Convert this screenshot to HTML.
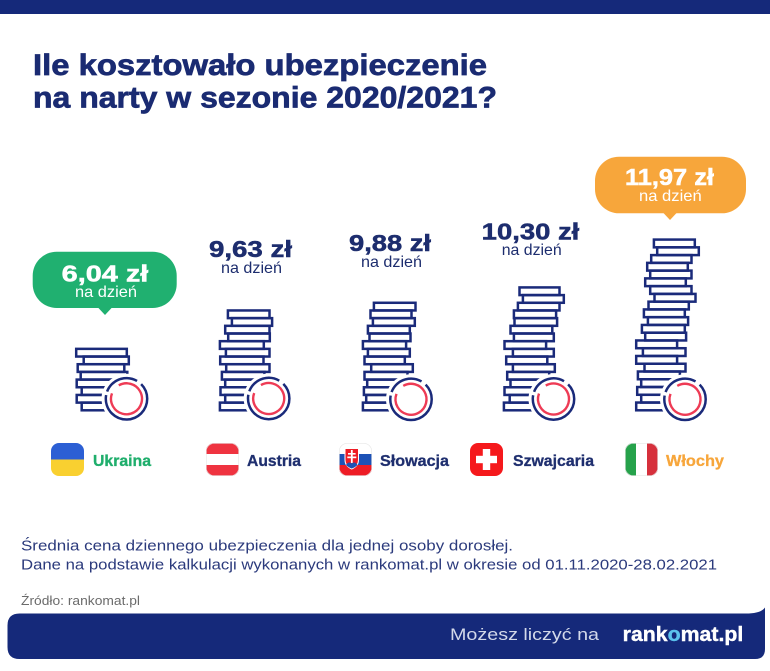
<!DOCTYPE html>
<html><head><meta charset="utf-8"><style>
html,body{margin:0;padding:0;background:#fff;}
svg{display:block;}
text{font-family:"Liberation Sans","DejaVu Sans",sans-serif;}
</style></head><body>
<svg width="770" height="671" viewBox="0 0 770 671" xmlns="http://www.w3.org/2000/svg">
<defs>
<clipPath id="f1"><rect x="51" y="443" width="33" height="33" rx="8"/></clipPath>
<clipPath id="f2"><rect x="206" y="443" width="33" height="33" rx="8"/></clipPath>
<clipPath id="f3"><rect x="339" y="443" width="33" height="33" rx="8"/></clipPath>
<clipPath id="f4"><rect x="470" y="443" width="33" height="33" rx="8"/></clipPath>
<clipPath id="f5"><rect x="625" y="443" width="33" height="33" rx="8"/></clipPath>
</defs>
<rect width="770" height="671" fill="#fff"/>
<rect x="0" y="0" width="770" height="14" fill="#15297a"/>

<text x="33" y="75" font-size="30" font-weight="bold" fill="#1a2b72" stroke="#1a2b72" stroke-width="0.7" textLength="454" lengthAdjust="spacingAndGlyphs">Ile kosztowało ubezpieczenie</text>
<text x="33" y="107.5" font-size="30" font-weight="bold" fill="#1a2b72" stroke="#1a2b72" stroke-width="0.7" textLength="464" lengthAdjust="spacingAndGlyphs">na narty w sezonie 2020/2021?</text>

<!-- bubbles -->
<rect x="32.7" y="251.7" width="144" height="56.3" rx="24" fill="#20b070"/>
<path d="M97.5 307 L105 315 L112.5 307 Z" fill="#20b070"/>
<text x="61.7" y="281.7" font-size="23" font-weight="bold" fill="#fff" stroke="#fff" stroke-width="0.5" textLength="86.6" lengthAdjust="spacingAndGlyphs">6,04 zł</text>
<text x="75" y="297" font-size="16" fill="#fff" textLength="62" lengthAdjust="spacingAndGlyphs">na dzień</text>

<rect x="595" y="156.7" width="151" height="56.6" rx="24" fill="#f7a63b"/>
<path d="M662.5 212 L670 220 L677.5 212 Z" fill="#f7a63b"/>
<text x="625" y="185" font-size="23" font-weight="bold" fill="#fff" stroke="#fff" stroke-width="0.5" textLength="89" lengthAdjust="spacingAndGlyphs">11,97 zł</text>
<text x="639" y="201" font-size="16" fill="#fff" textLength="62.7" lengthAdjust="spacingAndGlyphs">na dzień</text>

<g fill="#1d2d6e" stroke="#1d2d6e" stroke-width="0.5" font-size="23" font-weight="bold">
<text x="209" y="257" textLength="83" lengthAdjust="spacingAndGlyphs">9,63 zł</text>
<text x="349" y="251" textLength="82" lengthAdjust="spacingAndGlyphs">9,88 zł</text>
<text x="481.7" y="239.3" textLength="97.6" lengthAdjust="spacingAndGlyphs">10,30 zł</text>
</g>
<text x="221" y="273" font-size="16" fill="#1d2d6e" textLength="61" lengthAdjust="spacingAndGlyphs">na dzień</text>
<text x="361" y="267" font-size="16" fill="#1d2d6e" textLength="61" lengthAdjust="spacingAndGlyphs">na dzień</text>
<text x="501.7" y="255" font-size="16" fill="#1d2d6e" textLength="60" lengthAdjust="spacingAndGlyphs">na dzień</text>

<!-- stacks -->
<g fill="none" stroke="#1a2a7a" stroke-width="2.5">
<!-- Ukraine -->
<rect x="76.2" y="348.86" width="50.6" height="7.68"/>
<rect x="83.7" y="356.54" width="45.1" height="7.68"/>
<rect x="77.7" y="364.22" width="46.6" height="7.68"/>
<rect x="80.7" y="371.9" width="46.6" height="7.68"/>
<rect x="76.7" y="379.58" width="49.6" height="7.68"/>
<rect x="81.7" y="387.26" width="49.6" height="7.68"/>
<rect x="76.7" y="394.94" width="49.6" height="7.68"/>
<rect x="81.7" y="402.62" width="49.6" height="7.68"/>
<!-- Austria -->
<rect x="227.9" y="310.46" width="41.6" height="7.68"/>
<rect x="231.9" y="318.14" width="40.2" height="7.68"/>
<rect x="225.2" y="325.82" width="44.3" height="7.68"/>
<rect x="228.2" y="333.5" width="41.6" height="7.68"/>
<rect x="219.9" y="341.18" width="43.9" height="7.68"/>
<rect x="225.9" y="348.86" width="43.6" height="7.68"/>
<rect x="220.2" y="356.54" width="43.3" height="7.68"/>
<rect x="226.2" y="364.22" width="43.3" height="7.68"/>
<rect x="221.9" y="371.9" width="42.6" height="7.68"/>
<rect x="225.2" y="379.58" width="43" height="7.68"/>
<rect x="220.5" y="387.26" width="43" height="7.68"/>
<rect x="225.2" y="394.94" width="43" height="7.68"/>
<rect x="219.9" y="402.62" width="43" height="7.68"/>
<!-- Slovakia -->
<rect x="373.9" y="302.78" width="41.6" height="7.68"/>
<rect x="370.5" y="310.46" width="41" height="7.68"/>
<rect x="372.9" y="318.14" width="41.9" height="7.68"/>
<rect x="367.9" y="325.82" width="41.9" height="7.68"/>
<rect x="369.5" y="333.5" width="41" height="7.68"/>
<rect x="362.9" y="341.18" width="43.2" height="7.68"/>
<rect x="367.9" y="348.86" width="41.9" height="7.68"/>
<rect x="364.5" y="356.54" width="40.3" height="7.68"/>
<rect x="371.2" y="364.22" width="41.6" height="7.68"/>
<rect x="364.5" y="371.9" width="43" height="7.68"/>
<rect x="367.2" y="379.58" width="43" height="7.68"/>
<rect x="363.9" y="387.26" width="43" height="7.68"/>
<rect x="366.2" y="394.94" width="43" height="7.68"/>
<rect x="362.9" y="402.62" width="43" height="7.68"/>
<!-- Switzerland -->
<rect x="519.5" y="287.42" width="40" height="7.68"/>
<rect x="522.9" y="295.1" width="40.9" height="7.68"/>
<rect x="517.9" y="302.78" width="41.6" height="7.68"/>
<rect x="513.9" y="310.46" width="42.2" height="7.68"/>
<rect x="514.5" y="318.14" width="42.6" height="7.68"/>
<rect x="510.5" y="325.82" width="41.8" height="7.68"/>
<rect x="513.9" y="333.5" width="39.9" height="7.68"/>
<rect x="504.5" y="341.18" width="41.6" height="7.68"/>
<rect x="512.9" y="348.86" width="40.9" height="7.68"/>
<rect x="506.2" y="356.54" width="41.1" height="7.68"/>
<rect x="512.9" y="364.22" width="41.9" height="7.68"/>
<rect x="507.2" y="371.9" width="42" height="7.68"/>
<rect x="510.5" y="379.58" width="42" height="7.68"/>
<rect x="504.5" y="387.26" width="42" height="7.68"/>
<rect x="509.7" y="394.94" width="42" height="7.68"/>
<rect x="503.9" y="402.62" width="42" height="7.68"/>
<!-- Italy -->
<rect x="653.9" y="239.58" width="40.9" height="7.76"/>
<rect x="657.2" y="247.34" width="41.6" height="7.76"/>
<rect x="651.2" y="255.1" width="40.3" height="7.76"/>
<rect x="647.2" y="262.86" width="40.6" height="7.76"/>
<rect x="650.2" y="270.62" width="41.3" height="7.76"/>
<rect x="645.2" y="278.38" width="40.6" height="7.76"/>
<rect x="650.2" y="286.14" width="41.3" height="7.76"/>
<rect x="654.5" y="293.9" width="41" height="7.76"/>
<rect x="648.5" y="301.66" width="40.3" height="7.76"/>
<rect x="643.9" y="309.42" width="40.9" height="7.76"/>
<rect x="647.9" y="317.18" width="40.2" height="7.76"/>
<rect x="641.9" y="324.94" width="42.9" height="7.76"/>
<rect x="645.2" y="332.7" width="40.9" height="7.76"/>
<rect x="636.2" y="340.46" width="40.9" height="7.76"/>
<rect x="642.9" y="348.22" width="42.6" height="7.76"/>
<rect x="636.2" y="355.98" width="40.9" height="7.76"/>
<rect x="644.5" y="363.74" width="41" height="7.76"/>
<rect x="637.9" y="371.5" width="42" height="7.76"/>
<rect x="641.2" y="379.26" width="42" height="7.76"/>
<rect x="637.2" y="387.02" width="42" height="7.76"/>
<rect x="641.2" y="394.78" width="42" height="7.76"/>
<rect x="636.2" y="402.54" width="42" height="7.76"/>
</g>

<!-- coins -->
<g>
<g transform="translate(126.5,398.8)">
<circle r="25" fill="#fff"/>
<circle r="20.7" fill="none" stroke="#1a2a7a" stroke-width="2.5" stroke-dasharray="84.9 3.61 36.13 5.42" transform="rotate(315)"/>
<circle r="15.5" fill="none" stroke="#ee3b55" stroke-width="2.4" stroke-dasharray="86.57 10.82" transform="rotate(240)"/>
</g>
<g transform="translate(268.7,398.5)">
<circle r="25" fill="#fff"/>
<circle r="20.7" fill="none" stroke="#1a2a7a" stroke-width="2.5" stroke-dasharray="84.9 3.61 36.13 5.42" transform="rotate(315)"/>
<circle r="15.5" fill="none" stroke="#ee3b55" stroke-width="2.4" stroke-dasharray="86.57 10.82" transform="rotate(240)"/>
</g>
<g transform="translate(411,399.3)">
<circle r="25" fill="#fff"/>
<circle r="20.7" fill="none" stroke="#1a2a7a" stroke-width="2.5" stroke-dasharray="84.9 3.61 36.13 5.42" transform="rotate(315)"/>
<circle r="15.5" fill="none" stroke="#ee3b55" stroke-width="2.4" stroke-dasharray="86.57 10.82" transform="rotate(240)"/>
</g>
<g transform="translate(553.5,399)">
<circle r="25" fill="#fff"/>
<circle r="20.7" fill="none" stroke="#1a2a7a" stroke-width="2.5" stroke-dasharray="84.9 3.61 36.13 5.42" transform="rotate(315)"/>
<circle r="15.5" fill="none" stroke="#ee3b55" stroke-width="2.4" stroke-dasharray="86.57 10.82" transform="rotate(240)"/>
</g>
<g transform="translate(685,399.3)">
<circle r="25" fill="#fff"/>
<circle r="20.7" fill="none" stroke="#1a2a7a" stroke-width="2.5" stroke-dasharray="84.9 3.61 36.13 5.42" transform="rotate(315)"/>
<circle r="15.5" fill="none" stroke="#ee3b55" stroke-width="2.4" stroke-dasharray="86.57 10.82" transform="rotate(240)"/>
</g>
</g>

<!-- flags -->
<g clip-path="url(#f1)">
<rect x="51" y="443" width="33" height="16.5" fill="#2c5fd4"/>
<rect x="51" y="459.5" width="33" height="16.5" fill="#f9d030"/>
</g>
<g clip-path="url(#f2)">
<rect x="206" y="443" width="33" height="11" fill="#ef3340"/>
<rect x="206" y="454" width="33" height="11" fill="#fff"/>
<rect x="206" y="465" width="33" height="11" fill="#ef3340"/>
</g>
<rect x="206.3" y="443.3" width="32.4" height="32.4" rx="8" fill="none" stroke="#e6e6e6" stroke-width="0.6"/>
<g clip-path="url(#f3)">
<rect x="339" y="443" width="33" height="11" fill="#fff"/>
<rect x="339" y="454" width="33" height="11" fill="#1d52b6"/>
<rect x="339" y="465" width="33" height="11" fill="#ee1c25"/>
<path d="M345 448.5 H358.5 V460 Q358.5 466 351.75 469 Q345 466 345 460 Z" fill="#ee1c25" stroke="#fff" stroke-width="1"/>
<rect x="350.9" y="450" width="1.8" height="13" fill="#fff"/>
<rect x="348" y="453" width="7.6" height="1.6" fill="#fff"/>
<rect x="347.3" y="456.5" width="9" height="1.7" fill="#fff"/>
<path d="M346 465 Q348.5 461 351.75 463.5 Q355 461 357.5 465 Q355 467.5 351.75 468.5 Q348.5 467.5 346 465 Z" fill="#1d52b6"/>
</g>
<rect x="339.3" y="443.3" width="32.4" height="32.4" rx="8" fill="none" stroke="#e6e6e6" stroke-width="0.6"/>
<g clip-path="url(#f4)">
<rect x="470" y="443" width="33" height="33" fill="#f5191c"/>
<rect x="482.8" y="449" width="7.4" height="21" fill="#fff"/>
<rect x="476" y="455.8" width="21" height="7.4" fill="#fff"/>
</g>
<g clip-path="url(#f5)">
<rect x="625" y="443" width="11" height="33" fill="#26a24b"/>
<rect x="636" y="443" width="11" height="33" fill="#fff"/>
<rect x="647" y="443" width="11" height="33" fill="#d6303c"/>
</g>
<rect x="625.3" y="443.3" width="32.4" height="32.4" rx="8" fill="none" stroke="#e6e6e6" stroke-width="0.6"/>

<g font-size="16" font-weight="bold" stroke-width="0.3">
<text x="93" y="466" fill="#1fae6c" stroke="#1fae6c" textLength="58" lengthAdjust="spacingAndGlyphs">Ukraina</text>
<text x="247" y="466" fill="#1f2f6f" stroke="#1f2f6f" textLength="54" lengthAdjust="spacingAndGlyphs">Austria</text>
<text x="380" y="466" fill="#1f2f6f" stroke="#1f2f6f" textLength="69" lengthAdjust="spacingAndGlyphs">Słowacja</text>
<text x="513" y="466" fill="#1f2f6f" stroke="#1f2f6f" textLength="81" lengthAdjust="spacingAndGlyphs">Szwajcaria</text>
<text x="666" y="466" fill="#f7a63b" stroke="#f7a63b" textLength="58" lengthAdjust="spacingAndGlyphs">Włochy</text>
</g>

<!-- notes -->
<text x="21" y="550.5" font-size="15" fill="#2b3a7c" textLength="492" lengthAdjust="spacingAndGlyphs">Średnia cena dziennego ubezpieczenia dla jednej osoby dorosłej.</text>
<text x="21" y="569.5" font-size="15" fill="#2b3a7c" textLength="696" lengthAdjust="spacingAndGlyphs">Dane na podstawie kalkulacji wykonanych w rankomat.pl w okresie od 01.11.2020-28.02.2021</text>
<text x="21" y="605" font-size="12.5" fill="#6b6b6b" textLength="119" lengthAdjust="spacingAndGlyphs">Źródło: rankomat.pl</text>

<!-- footer -->
<path d="M19.5 613.5 L746 613.5 Q761 613.5 765 607.5 L765 649 Q765 659 755 659 L19.5 659 Q7.5 659 7.5 647 L7.5 625.5 Q7.5 613.5 19.5 613.5 Z" fill="#15297a"/>
<text x="450" y="640" font-size="17" fill="#d3d9ea" textLength="149" lengthAdjust="spacingAndGlyphs">Możesz liczyć na</text>
<text x="622.7" y="641" font-size="20" font-weight="bold" fill="#fff" stroke="#fff" stroke-width="0.4" textLength="120.6" lengthAdjust="spacingAndGlyphs">rank<tspan fill="#5cc3ee" stroke="#5cc3ee">o</tspan>mat.pl</text>
</svg>
</body></html>
